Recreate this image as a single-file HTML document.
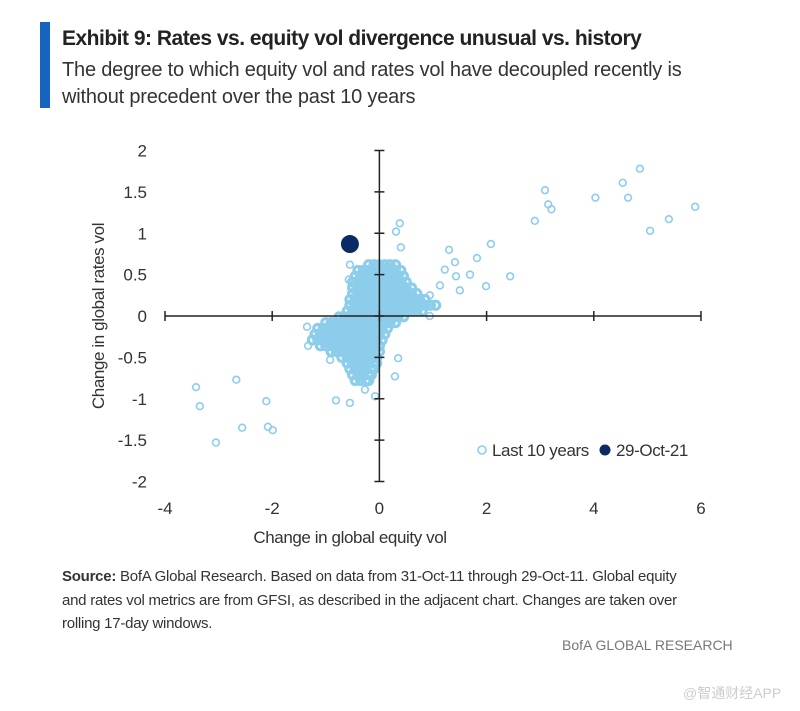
<!DOCTYPE html>
<html><head><meta charset="utf-8"><style>
body{margin:0;background:#fff;width:800px;height:711px;overflow:hidden;font-family:"Liberation Sans",sans-serif;position:relative}
.t{position:absolute;white-space:nowrap}
</style></head><body>
<div style="position:absolute;left:40px;top:22px;width:10px;height:86px;background:#1565c0"></div>
<div class="t" style="left:62px;top:27px;font-size:21px;font-weight:bold;color:#222;letter-spacing:-0.5px">Exhibit 9: Rates vs. equity vol divergence unusual vs. history</div>
<div class="t" style="left:62px;top:57px;font-size:20px;color:#333;line-height:27px;letter-spacing:-0.2px">The degree to which equity vol and rates vol have decoupled recently is<br>without precedent over the past 10 years</div>
<svg id="chart" width="800" height="711" style="position:absolute;left:0;top:0" font-family="Liberation Sans, sans-serif"></svg>
<div class="t" style="left:62px;top:565px;font-size:15px;color:#333;line-height:23.5px;letter-spacing:-0.25px"><b>Source:</b> BofA Global Research. Based on data from 31-Oct-11 through 29-Oct-11. Global equity<br>and rates vol metrics are from GFSI, as described in the adjacent chart. Changes are taken over<br>rolling 17-day windows.</div>
<div class="t" style="left:562px;top:637px;font-size:14px;color:#777">BofA GLOBAL RESEARCH</div>
<div class="t" style="left:683px;top:683px;font-size:14px;color:#ccc;font-family:'Liberation Sans','Noto Sans CJK SC',sans-serif">@智通财经APP</div>
<script>
const xTicks=[-4,-2,0,2,4,6];
const yTicks=[-2,-1.5,-1,-0.5,0,0.5,1,1.5,2];
const outX=[4.86,4.54,3.09,4.03,4.64,3.15,3.21,5.89,5.40,2.9,5.05,2.08,1.30,1.82,2.44,1.99,1.41,1.69,0.38,0.31,0.40,-0.55,-0.57,1.13,0.94,0.85,0.94,-1.35,-1.33,-3.42,-3.35,-2.67,-2.11,-2.56,-2.08,-1.99,-3.05,-0.81,-0.55,0.35,0.29,-0.08,-0.27,-0.92,-1.0,1.22,1.43,1.5];
const outY=[1.78,1.61,1.52,1.43,1.43,1.35,1.29,1.32,1.17,1.15,1.03,0.87,0.80,0.70,0.48,0.36,0.65,0.50,1.12,1.02,0.83,0.62,0.44,0.37,0.25,0.13,0.0,-0.13,-0.36,-0.86,-1.09,-0.77,-1.03,-1.35,-1.34,-1.38,-1.53,-1.02,-1.05,-0.51,-0.73,-0.97,-0.89,-0.53,-0.29,0.56,0.48,0.31];
const coreRowY=[0.62,0.55,0.48,0.41,0.34,0.27,0.2,0.13,0.06,-0.01,-0.08,-0.15,-0.22,-0.29,-0.36,-0.43,-0.5,-0.57,-0.64,-0.71,-0.78];
const coreRowX=[
[-0.2,-0.1,0,0.1,0.2,0.3],
[-0.4,-0.3,-0.2,-0.1,0,0.1,0.2,0.3,0.4],
[-0.45,-0.35,-0.25,-0.15,-0.05,0.05,0.15,0.25,0.35,0.45],
[-0.5,-0.4,-0.3,-0.2,-0.1,0,0.1,0.2,0.3,0.4,0.5],
[-0.5,-0.4,-0.3,-0.2,-0.1,0,0.1,0.2,0.3,0.4,0.5,0.6],
[-0.5,-0.4,-0.3,-0.2,-0.1,0,0.1,0.2,0.3,0.4,0.5,0.6,0.7],
[-0.55,-0.45,-0.35,-0.25,-0.15,-0.05,0.05,0.15,0.25,0.35,0.45,0.55,0.65,0.75,0.85],
[-0.55,-0.45,-0.35,-0.25,-0.15,-0.05,0.05,0.15,0.25,0.35,0.45,0.55,0.65,0.75,0.85,0.95,1.05],
[-0.6,-0.5,-0.4,-0.3,-0.2,-0.1,0,0.1,0.2,0.3,0.4,0.5,0.6,0.7,0.8],
[-0.75,-0.65,-0.55,-0.45,-0.35,-0.25,-0.15,-0.05,0.05,0.15,0.25,0.35,0.45],
[-1.0,-0.9,-0.8,-0.7,-0.6,-0.5,-0.4,-0.3,-0.2,-0.1,0,0.1,0.2,0.3],
[-1.15,-1.05,-0.95,-0.85,-0.75,-0.65,-0.55,-0.45,-0.35,-0.25,-0.15,-0.05,0.05,0.15],
[-1.2,-1.1,-1.0,-0.9,-0.8,-0.7,-0.6,-0.5,-0.4,-0.3,-0.2,-0.1,0,0.1],
[-1.25,-1.15,-1.05,-0.95,-0.85,-0.75,-0.65,-0.55,-0.45,-0.35,-0.25,-0.15,-0.05,0.05],
[-1.1,-1.0,-0.9,-0.8,-0.7,-0.6,-0.5,-0.4,-0.3,-0.2,-0.1,0],
[-0.9,-0.8,-0.7,-0.6,-0.5,-0.4,-0.3,-0.2,-0.1,0],
[-0.7,-0.6,-0.5,-0.4,-0.3,-0.2,-0.1,-0.05],
[-0.6,-0.5,-0.4,-0.3,-0.2,-0.1,-0.05],
[-0.55,-0.45,-0.35,-0.25,-0.15,-0.1],
[-0.5,-0.4,-0.3,-0.2,-0.15],
[-0.45,-0.35,-0.25,-0.2]];
const hiX=[-0.55], hiY=[0.87];
const NS='http://www.w3.org/2000/svg';
const svg=document.getElementById('chart');
const sx=v=>379.4+v*53.6, sy=v=>316-v*82.75;
function mk(t,a){const e=document.createElementNS(NS,t);for(const k in a)e.setAttribute(k,a[k]);svg.appendChild(e);return e;}
function dot(x,y,r,w){const c=mk('circle',{cx:sx(x),cy:sy(y),r:r,fill:'none',stroke:'#8dcdec','stroke-width':w});

}
coreRowY.forEach((y,i)=>coreRowX[i].forEach(x=>dot(x,y,4,3.2)));
outX.forEach((x,i)=>dot(x,outY[i],3.4,1.6));
const xa=mk('line',{x1:sx(-4),x2:sx(6),y1:sy(0),y2:sy(0),stroke:'#222','stroke-width':1.5});

const ya=mk('line',{x1:sx(0),x2:sx(0),y1:sy(2),y2:sy(-2),stroke:'#222','stroke-width':1.5});

xTicks.forEach(v=>{mk('line',{x1:sx(v),x2:sx(v),y1:sy(0)-5,y2:sy(0)+5,stroke:'#222','stroke-width':1.5});
const t=mk('text',{x:sx(v),y:514,'text-anchor':'middle','font-size':17,fill:'#333'});t.textContent=v;
});
yTicks.forEach(v=>{mk('line',{x1:sx(0)-5,x2:sx(0)+5,y1:sy(v),y2:sy(v),stroke:'#222','stroke-width':1.5});
const t=mk('text',{x:147,y:sy(v)+6,'text-anchor':'end','font-size':17,fill:'#333'});t.textContent=v;
});
hiX.forEach((x,i)=>{const c=mk('circle',{cx:sx(x),cy:sy(hiY[i]),r:9,fill:'#0a2a66'});
});
let t=mk('text',{x:350,y:543,'text-anchor':'middle','font-size':17,fill:'#333','letter-spacing':'-0.4'});t.textContent='Change in global equity vol';

t=mk('text',{x:0,y:0,'text-anchor':'middle','font-size':17,fill:'#333','letter-spacing':'-0.4',transform:'translate(104,316) rotate(-90)'});t.textContent='Change in global rates vol';

mk('circle',{cx:482,cy:450,r:4,fill:'none',stroke:'#8dcdec','stroke-width':1.6});
t=mk('text',{x:492,y:456,'font-size':17,fill:'#333','letter-spacing':'-0.4'});t.textContent='Last 10 years';

mk('circle',{cx:605,cy:450,r:5.5,fill:'#0a2a66'});
t=mk('text',{x:616,y:456,'font-size':17,fill:'#333','letter-spacing':'-0.4'});t.textContent='29-Oct-21';

</script>
</body></html>
